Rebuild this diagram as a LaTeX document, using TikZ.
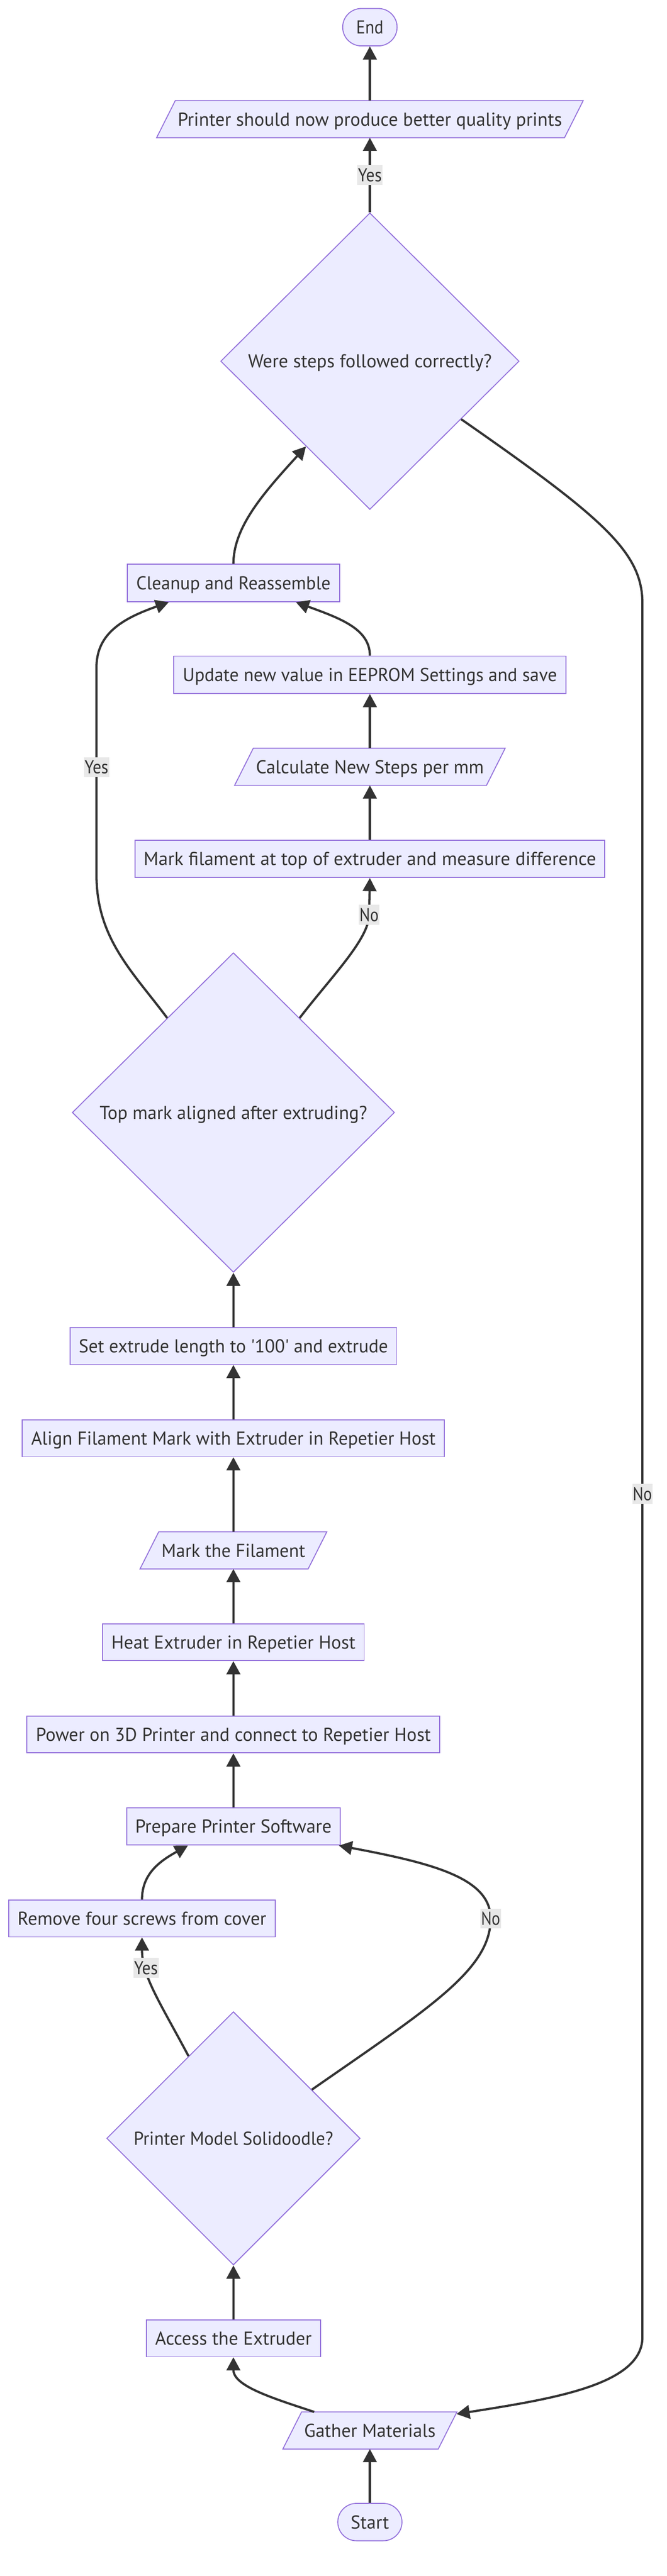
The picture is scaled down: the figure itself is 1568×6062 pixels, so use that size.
\documentclass[tikz,border=0pt]{standalone}
\usepackage{fontspec}
\setmainfont{PT Sans}[Ligatures=TeXOff]
\usepackage{graphicx}
\usetikzlibrary{arrows.meta,calc,shapes.geometric}
\definecolor{nodefill}{HTML}{ECECFF}
\definecolor{nodeline}{HTML}{9370DB}
\definecolor{edgecol}{HTML}{333333}
\definecolor{lblbg}{HTML}{E8E8E8}
\definecolor{txtcol}{HTML}{333333}
\newcommand{\ftxt}[2]{\resizebox{#1pt}{\height}{#2}}
\pgfdeclarelayer{background}
\pgfsetlayers{background,main}
\newcommand{\slantshape}[1]{%
  \begin{pgfonlayer}{background}
  \path[shp] ([xshift=22pt]#1.north west) -- ([xshift=22pt]#1.north east)
    -- ([xshift=-22pt]#1.south east) -- ([xshift=-22pt]#1.south west) -- cycle;
  \end{pgfonlayer}}
\begin{document}
\begin{tikzpicture}[x=1pt,y=-1pt,
  nbase/.style={inner sep=0pt, text=txtcol, font=\fontsize{44pt}{53pt}\selectfont, text height=42pt, text depth=11pt},
  shp/.style={draw=nodeline, fill=nodefill, line width=2.2pt},
  box/.style={nbase, shp, rectangle, minimum height=87pt},
  termnode/.style={nbase, shp, rectangle, rounded corners=44pt, minimum height=88pt},
  dia/.style={nbase, shp, diamond},
  slantnode/.style={nbase, rectangle, minimum height=87pt},
  conn/.style={draw=edgecol, line width=5.2pt, -{Triangle[length=31pt,width=32pt]}},
  lbl/.style={nbase, fill=lblbg, inner xsep=1.5pt, minimum height=47pt, text height=39pt, text depth=8pt}
]
\useasboundingbox (0,0) rectangle (1568,6062);
\begin{pgfonlayer}{background}
\fill[white] (0,0) rectangle (1568,6062);
\end{pgfonlayer}

% nodes
\node[termnode, minimum width=128pt] (end) at (870,64) {\ftxt{64}{End}};
\node[slantnode, minimum width=959pt] (out) at (870,280.5) {\ftxt{904}{Printer should now produce better quality prints}};
\slantshape{out}
\node[dia, minimum width=702pt, minimum height=698pt] (were) at (870,850) {\ftxt{573}{Were steps followed correctly?}};
\node[box, minimum width=500pt, minimum height=88pt] (clean) at (549,1372) {\ftxt{457}{Cleanup and Reassemble}};
\node[box, minimum width=922pt, minimum height=88pt] (update) at (870,1588) {\ftxt{880}{Update new value in EEPROM Settings and save}};
\node[slantnode, minimum width=592pt] (calcn) at (870,1804.5) {\ftxt{536}{Calculate New Steps per mm}};
\slantshape{calcn}
\node[box, minimum width=1105pt, minimum height=88pt] (marktop) at (870,2021) {\ftxt{1064}{Mark filament at top of extruder and measure difference}};
\node[dia, minimum width=758pt, minimum height=752pt] (topmark) at (549,2618) {\ftxt{629}{Top mark aligned after extruding?}};
\node[box, minimum width=768pt] (setext) at (549,3167.5) {\ftxt{727}{Set extrude length to '100' and extrude}};
\node[box, minimum width=993pt] (align) at (549,3384.5) {\ftxt{951}{Align Filament Mark with Extruder in Repetier Host}};
\node[slantnode, minimum width=395pt] (markfil) at (549,3648.5) {\ftxt{338}{Mark the Filament}};
\slantshape{markfil}
\node[box, minimum width=615pt] (heat) at (549,3864.5) {\ftxt{574}{Heat Extruder in Repetier Host}};
\node[box, minimum width=971pt] (power) at (549,4081.5) {\ftxt{929}{Power on 3D Printer and connect to Repetier Host}};
\node[box, minimum width=502pt, minimum height=88pt] (prepare) at (549,4298) {\ftxt{462}{Prepare Printer Software}};
\node[box, minimum width=627pt] (remove) at (334,4514.5) {\ftxt{585}{Remove four screws from cover}};
\node[dia, minimum width=596pt, minimum height=596pt] (model) at (549,5032) {\ftxt{469}{Printer Model Solidoodle?}};
\node[box, minimum width=410pt] (access) at (549,5502.5) {\ftxt{368}{Access the Extruder}};
\node[slantnode, minimum width=365pt] (gather) at (870,5719.5) {\ftxt{309}{Gather Materials}};
\slantshape{gather}
\node[termnode, minimum width=151pt] (start) at (870,5935) {\ftxt{90}{Start}};

% connectors
\draw[conn] (start.north) -- (gather.south);
\draw[conn] ([xshift=-131pt]gather.north) .. controls (640,5643) and (549,5615) .. (access.south);
\draw[conn] (access.north) -- (model.south);
\draw[conn] ($(model.north)!0.353!(model.west)$) .. controls (375,4710) and (334,4650) .. (remove.south) node[lbl,pos=0.72] {\ftxt{56}{Yes}};
\draw[conn] ($(model.north)!0.617!(model.east)$) .. controls (1010,4725) and (1154,4635) .. (1154,4515) node[lbl] {\ftxt{45}{No}} .. controls (1154,4420) and (1020,4385) .. ([xshift=-4pt]prepare.south east);
\draw[conn] (remove.north) .. controls (334,4410) and (375,4380) .. ([xshift=-107pt]prepare.south);
\draw[conn] (prepare.north) -- (power.south);
\draw[conn] (power.north) -- (heat.south);
\draw[conn] (heat.north) -- (markfil.south);
\draw[conn] (markfil.north) -- (align.south);
\draw[conn] (align.north) -- (setext.south);
\draw[conn] (setext.north) -- (topmark.south);
\draw[conn] ($(topmark.north)!0.41!(topmark.east)$) .. controls (778,2300) and (868,2210) .. (868,2153) node[lbl] {\ftxt{45}{No}} -- (marktop.south);
\draw[conn] ($(topmark.north)!0.41!(topmark.west)$) .. controls (315,2290) and (227,2210) .. (227,2060) -- (227,1570) node[lbl,pos=0.52] {\ftxt{56}{Yes}} .. controls (227,1490) and (290,1455) .. ([xshift=-152pt]clean.south);
\draw[conn] (marktop.north) -- (calcn.south);
\draw[conn] (calcn.north) -- (update.south);
\draw[conn] (update.north) .. controls (870,1480) and (800,1455) .. ([xshift=147pt]clean.south);
\draw[conn] (clean.north) .. controls (549,1240) and (620,1160) .. ($(were.west)!0.573!(were.south)$);
\draw[conn] (were.north) -- (out.south) node[lbl,midway] {\ftxt{56}{Yes}};
\draw[conn] (out.north) -- (end.south);
\draw[conn] ($(were.east)!0.39!(were.south)$) .. controls (1420,1220) and (1511,1300) .. (1511,1420) -- (1511,5500) node[lbl,pos=0.5135] {\ftxt{45}{No}} .. controls (1511,5612) and (1300,5645) .. ([xshift=21pt,yshift=-5pt]gather.north east);
\end{tikzpicture}
\end{document}
